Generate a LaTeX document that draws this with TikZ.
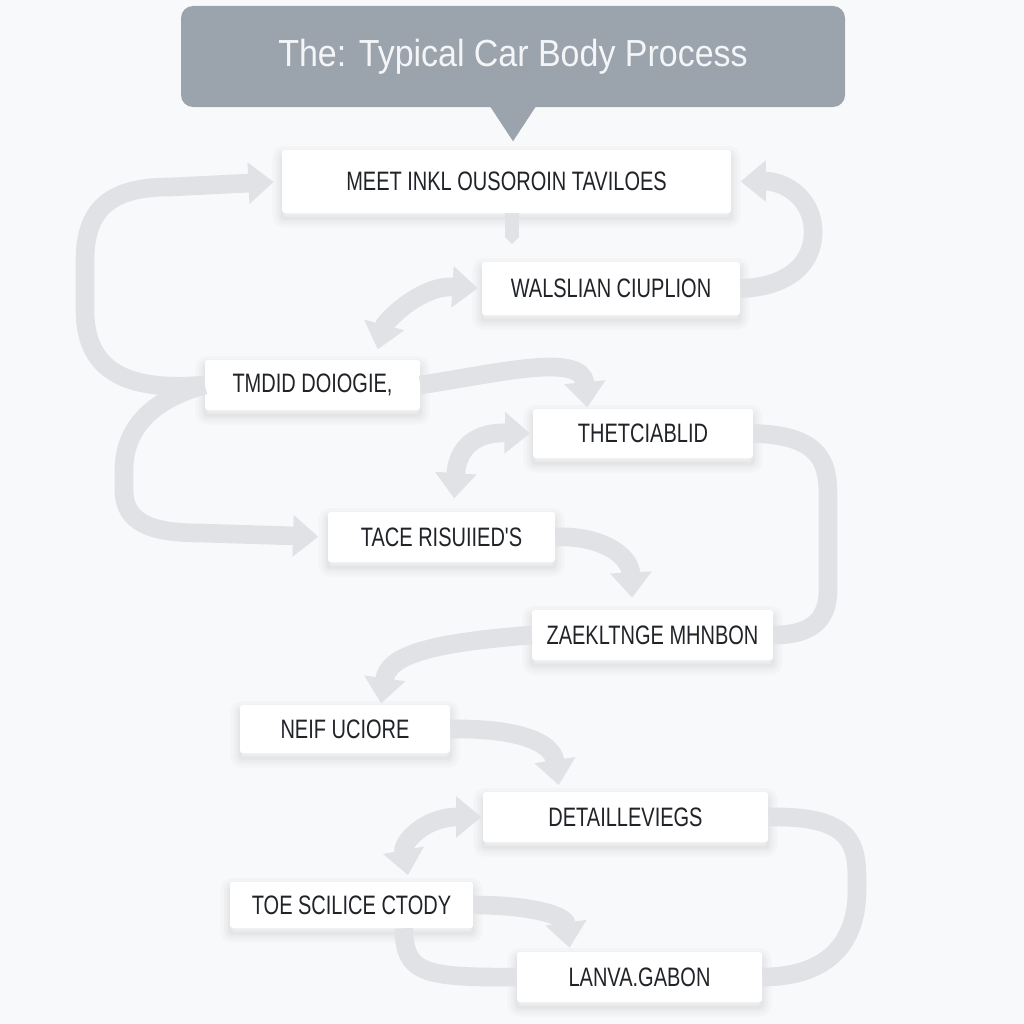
\documentclass[tikz,border=0pt]{standalone}
\usepackage{fontspec}
\usepackage{tikz}
\usetikzlibrary{arrows.meta}
\newfontfamily\boxfont[FakeStretch=0.75]{Liberation Sans}
\newfontfamily\headfont[FakeStretch=0.9]{Liberation Sans}
\definecolor{bgcol}{RGB}{248,249,250}
\definecolor{headgray}{RGB}{155,163,173}
\definecolor{flowgray}{RGB}{224,226,230}
\definecolor{inkgray}{RGB}{32,35,40}
\tikzset{
  softshadow/.style={preaction={draw=black,line width=#1,draw opacity=0.018,transform canvas={yshift=-4pt}}},
  stepbox/.style={fill=white,rounded corners=2pt,inner sep=0pt,text=inkgray,
    font=\boxfont\fontsize{20}{24}\selectfont,
    softshadow=14pt,softshadow=9pt,softshadow=5pt,softshadow=2pt},
  flow/.style={draw=flowgray,line width=14pt,-{Triangle[width=30pt,length=19pt]}},
  flowboth/.style={draw=flowgray,line width=14pt,{Triangle[width=30pt,length=19pt]}-{Triangle[width=30pt,length=19pt]}},
  flowplain/.style={draw=flowgray,line width=14pt}
}
\begin{document}
\begin{tikzpicture}[x=0.75pt,y=0.75pt,yscale=-1,xscale=1]
        %set diagram to 1024 x 1024
        \fill[bgcol] (0,0) rectangle (1024,1024);
        \useasboundingbox (0,0) rectangle (1024,1024);

        %Shape: Title box
        \draw (513,56.5) node [fill=headgray,rounded corners=9pt,minimum width=664*0.75pt,minimum height=101*0.75pt,text={rgb,255:red,244;green,245;blue,247},font=\headfont\fontsize{28.3}{32}\selectfont] (title) {The: Typical Car Body Process};
        %Shape: Triangle
        \fill[headgray] (title.south) ++(-23,-1) -- ++(46,0) -- ++(-23,35) -- cycle;

        % Text Node
        \draw (506.5,181.5) node [stepbox,minimum width=449*0.75pt,minimum height=63*0.75pt] (meet) {MEET INKL OUSOROIN TAVILOES};
        % Text Node
        \draw (611,288.5) node [stepbox,minimum width=258*0.75pt,minimum height=53*0.75pt] (walsl) {WALSLIAN CIUPLION};
        % Text Node
        \draw (312.5,385) node [stepbox,minimum width=215*0.75pt,minimum height=50*0.75pt] (tmdid) {TMDID DOIOGIE,};
        % Text Node
        \draw (643,433.5) node [stepbox,minimum width=220*0.75pt,minimum height=49*0.75pt] (thet) {THETCIABLID};
        % Text Node
        \draw (441.5,537) node [stepbox,minimum width=227*0.75pt,minimum height=50*0.75pt] (tace) {TACE RISUIIED'S};
        % Text Node
        \draw (652.5,635) node [stepbox,minimum width=241*0.75pt,minimum height=50*0.75pt] (zaek) {ZAEKLTNGE MHNBON};
        % Text Node
        \draw (345,729) node [stepbox,minimum width=210*0.75pt,minimum height=48*0.75pt] (neif) {NEIF UCIORE};
        % Text Node
        \draw (625.5,817) node [stepbox,minimum width=285*0.75pt,minimum height=50*0.75pt] (detail) {DETAILLEVIEGS};
        % Text Node
        \draw (351.5,905) node [stepbox,minimum width=243*0.75pt,minimum height=46*0.75pt] (toe) {TOE SCILICE CTODY};
        % Text Node
        \draw (639.5,977) node [stepbox,minimum width=245*0.75pt,minimum height=50*0.75pt] (lanva) {LANVA.GABON};

        %Straight Lines: stub
        \coordinate (stubend) at (512,244);
        \draw [draw=flowgray,line width=10pt,-{Triangle[width=10pt,length=5pt]}] (meet.south -| stubend) -- (stubend);
        %Curve Lines
        \draw [flow,shorten >=6pt] (tmdid.west) .. controls (125,392) and (85,370) .. (85,310) -- (85,260) .. controls (85,205) and (115,187) .. (170,187) -- (meet.west);
        %Curve Lines
        \draw [flow,shorten >=7pt] (tmdid.west) .. controls (150,400) and (124,430) .. (124,470) -- (124,490) .. controls (124,522) and (150,533) .. (200,533) -- (tace.west);
        %Curve Lines
        \draw [flow,shorten >=7pt] (walsl.east) .. controls (790,287) and (815,262) .. (813,228) .. controls (811,198) and (785,181) .. (meet.east);
        %Curve Lines
        \draw [flowboth,shorten <=8pt,shorten >=3pt] (tmdid.22) .. controls (385,322) and (420,285) .. (walsl.west);
        %Curve Lines
        \draw [flow,shorten >=1pt] (tmdid.east) .. controls (500,373) and (582,352) .. (thet.156);
        %Curve Lines
        \draw [flowboth,shorten <=10pt,shorten >=2pt] (tace.65) .. controls (457,455) and (468,432) .. (thet.west);
        %Curve Lines
        \draw [flowplain] (thet.east) .. controls (828,435) and (828,470) .. (828,500) -- (828,590) .. controls (828,625) and (805,635) .. (zaek.east);
        %Curve Lines
        \draw [flow,shorten >=9pt] (tace.east) .. controls (600,535) and (630,555) .. (zaek.128);
        %Curve Lines
        \draw [flow,shorten >=1pt] (zaek.west) .. controls (430,643) and (388,655) .. (neif.34);
        %Curve Lines
        \draw [flow,shorten >=5pt] (neif.east) .. controls (512,728) and (552,740) .. (detail.159);
        %Curve Lines
        \draw [flowboth,shorten <=5pt,shorten >=1pt] (toe.22) .. controls (402,842) and (425,817) .. (detail.west);
        %Curve Lines
        \draw [flowplain] (detail.east) .. controls (860,815) and (857,850) .. (857,890) .. controls (857,950) and (820,977) .. (lanva.east);
        %Curve Lines
        \draw [flow,shorten >=3pt] (toe.east) .. controls (530,905) and (565,915) .. (lanva.160);
        %Curve Lines
        \draw [flowplain] (toe.-24) .. controls (405,972) and (420,978) .. (lanva.west);

\end{tikzpicture}
\end{document}
